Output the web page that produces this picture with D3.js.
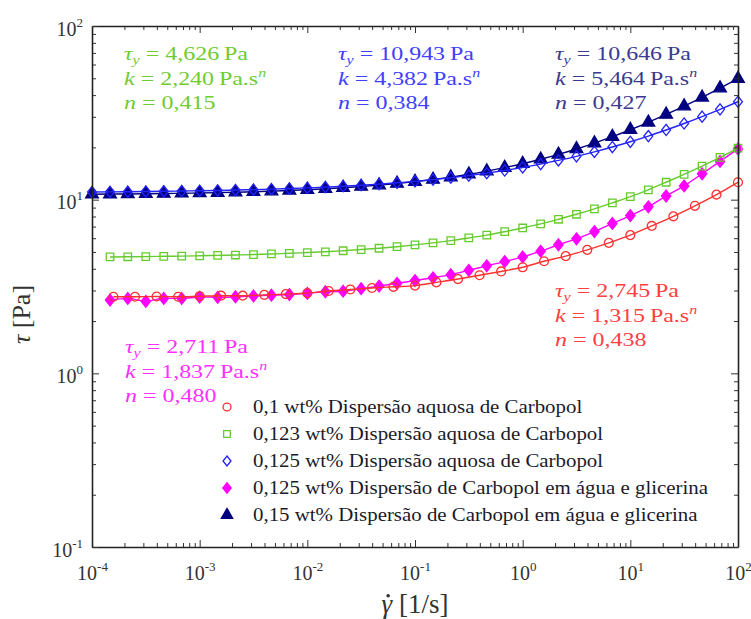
<!DOCTYPE html>
<html>
<head>
<meta charset="utf-8">
<script src="https://cdn.jsdelivr.net/npm/d3@7"></script>
<style>
  body { margin: 0; background: #fff; }
  svg, svg text { font-family: "Liberation Serif", "DejaVu Serif", serif; }
</style>
</head>
<body>
<div id="viz"></div>
<script>
// shear rates (1/s), three grids used by the series
const rateA = [1e-4, 1.47e-4, 2.15e-4, 3.16e-4, 4.64e-4, 6.81e-4,
  1e-3, 1.47e-3, 2.15e-3, 3.16e-3, 4.64e-3, 6.81e-3,
  0.01, 0.0147, 0.0215, 0.0316, 0.0464, 0.0681,
  0.1, 0.147, 0.215, 0.316, 0.464, 0.681,
  1, 1.47, 2.15, 3.16, 4.64, 6.81,
  10, 14.7, 21.5, 31.6, 46.4, 68.1, 100];
const rateB = [1.47e-4, 2.15e-4, 3.16e-4, 4.64e-4, 6.81e-4,
  1e-3, 1.47e-3, 2.15e-3, 3.16e-3, 4.64e-3, 6.81e-3,
  0.01, 0.0147, 0.0215, 0.0316, 0.0464, 0.0681,
  0.1, 0.147, 0.215, 0.316, 0.464, 0.681,
  1, 1.47, 2.15, 3.16, 4.64, 6.81,
  10, 14.7, 21.5, 31.6, 46.4, 68.1, 100];
const rateC = [1.58e-4, 2.51e-4, 3.98e-4, 6.31e-4,
  1e-3, 1.58e-3, 2.51e-3, 3.98e-3, 6.31e-3,
  0.01, 0.0158, 0.0251, 0.0398, 0.0631,
  0.1, 0.158, 0.251, 0.398, 0.631,
  1, 1.58, 2.51, 3.98, 6.31,
  10, 15.8, 25.1, 39.8, 63.1, 100];

// shear stress (Pa)
const tauRed = [2.76, 2.76, 2.77, 2.76, 2.78, 2.80, 2.80, 2.83, 2.86, 2.90,
  2.98, 3.04, 3.10, 3.15, 3.20, 3.34, 3.49, 3.67, 3.86, 4.08,
  4.42, 4.73, 5.14, 5.64, 6.25, 7.06, 8.02, 9.22, 10.7, 12.6];
const tauGreen = [4.68, 4.69, 4.70, 4.72, 4.73, 4.75, 4.78, 4.80, 4.83, 4.87,
  4.91, 4.96, 5.01, 5.08, 5.16, 5.25, 5.36, 5.49, 5.64, 5.81,
  6.02, 6.25, 6.54, 6.87, 7.25, 7.71, 8.24, 8.86, 9.59, 10.4,
  11.4, 12.6, 14.0, 15.6, 17.5, 19.8];
const tauBlue = [11.07, 11.09, 11.11, 11.14, 11.17, 11.21, 11.25, 11.30, 11.36, 11.42,
  11.50, 11.59, 11.69, 11.81, 11.95, 12.11, 12.29, 12.51, 12.75, 13.04,
  13.38, 13.76, 14.21, 14.73, 15.33, 16.02, 16.83, 17.76, 18.84, 20.10,
  21.55, 23.24, 25.19, 27.45, 30.07, 33.11, 36.63];
const tauMagenta = [2.64, 2.70, 2.60, 2.70, 2.70, 2.75, 2.74, 2.76, 2.79, 2.82,
  2.84, 2.89, 2.95, 2.97, 3.07, 3.18, 3.30, 3.42, 3.55, 3.70,
  3.92, 4.16, 4.40, 4.68, 5.05, 5.50, 5.95, 6.55, 7.30, 8.10,
  9.10, 10.5, 12.0, 14.1, 16.6, 19.6];
const tauNavy = [10.75, 10.77, 10.79, 10.82, 10.85, 10.89, 10.93, 10.98, 11.04, 11.11,
  11.20, 11.30, 11.41, 11.55, 11.71, 11.90, 12.12, 12.39, 12.70, 13.06,
  13.49, 14.00, 14.60, 15.30, 16.11, 17.08, 18.23, 19.58, 21.18, 23.05,
  25.27, 27.87, 30.94, 34.56, 38.82, 43.84, 49.76];

const legendNames = [
  '0,1 wt% Dispersão aquosa de Carbopol',
  '0,123 wt% Dispersão aquosa de Carbopol',
  '0,125 wt% Dispersão aquosa de Carbopol',
  '0,125 wt% Dispersão de Carbopol em água e glicerina',
  '0,15 wt% Dispersão de Carbopol em água e glicerina'];

// Herschel-Bulkley fit parameters shown as labels
const fitTauY = ['2,745', '4,626', '10,943', '2,711', '10,646'];
const fitK = ['1,315', '2,240', '4,382', '1,837', '5,464'];
const fitN = ['0,438', '0,415', '0,384', '0,480', '0,427'];

const xExps = [-4, -3, -2, -1, 0, 1, 2];
const yExps = [-1, 0, 1, 2];

let margin = {top: 26, right: 13, bottom: 72, left: 92},
    width = 751 - margin.left - margin.right,
    height = 619 - margin.top - margin.bottom;

let root = d3.select('#viz')
  .append('svg')
  .attr('width', width + margin.left + margin.right)
  .attr('height', height + margin.top + margin.bottom)
  .style('font-family', '"Liberation Serif", "DejaVu Serif", serif');
let svg = root.append('g')
  .attr('transform', `translate(${margin.left}, ${margin.top})`);

let x = d3.scaleLog().domain([1e-4, 1e2]).range([0, width]);
let y = d3.scaleLog().domain([1e-1, 1e2]).range([height, 0]);

let xMajor = xExps.map(e => Math.pow(10, e));
let yMajor = yExps.map(e => Math.pow(10, e));
let minorOf = majors => {
  let out = [];
  majors.slice(0, -1).forEach(m => { for (let i = 2; i <= 9; i++) out.push(m * i); });
  return out;
};
let xMinor = minorOf(xMajor), yMinor = minorOf(yMajor);

// diamond shape for the symbol generator
const diamond = {
  draw(ctx, size) {
    let h = Math.sqrt(size) * 0.72, w = h * 0.8;
    ctx.moveTo(0, -h); ctx.lineTo(w, 0); ctx.lineTo(0, h); ctx.lineTo(-w, 0); ctx.closePath();
  }
};

let series = [
  {rates: rateC, taus: tauRed, color: '#ff3030', type: d3.symbolCircle, size: 62, filled: false},
  {rates: rateB, taus: tauGreen, color: '#66cc2e', type: d3.symbolSquare, size: 56, filled: false},
  {rates: rateA, taus: tauBlue, color: '#2222ff', type: diamond, size: 60, filled: false},
  {rates: rateB, taus: tauMagenta, color: '#ff00ff', type: diamond, size: 66, filled: true},
  {rates: rateA, taus: tauNavy, color: '#000080', type: d3.symbolTriangle, size: 70, filled: true}
];

// filled markers first so the open ones sit on top, like the original
let drawOrder = [4, 3, 2, 1, 0];
let line = d3.line().x(d => x(d[0])).y(d => y(d[1])).curve(d3.curveMonotoneX);

drawOrder.forEach(i => {
  let s = series[i];
  let pts = s.rates.map((r, j) => [r, s.taus[j]]);
  let g = svg.append('g');
  g.append('path')
    .datum(pts)
    .attr('d', line)
    .attr('fill', 'none')
    .attr('stroke', s.color)
    .attr('stroke-width', 1.4);
  g.selectAll('path.pt')
    .data(pts)
    .join('path')
    .attr('class', 'pt')
    .attr('transform', d => `translate(${x(d[0])},${y(d[1])})`)
    .attr('d', d3.symbol(s.type, s.size))
    .attr('fill', s.filled ? s.color : 'none')
    .attr('stroke', s.color)
    .attr('stroke-width', 1.3);
});

// axes: ticks point inward on all four sides
function addAxis(axisFn, scale, majors, minors, transform) {
  let gMin = svg.append('g').attr('transform', transform)
    .call(axisFn(scale).tickValues(minors).tickSize(-4).tickSizeOuter(0).tickFormat(''));
  gMin.select('.domain').remove();
  gMin.selectAll('.tick line').attr('stroke', '#333');
  let gMaj = svg.append('g').attr('transform', transform)
    .call(axisFn(scale).tickValues(majors).tickSize(-7).tickSizeOuter(0).tickFormat(''));
  gMaj.attr('font-family', null);
  gMaj.select('.domain').attr('stroke', '#222').attr('stroke-width', 1.6);
  gMaj.selectAll('.tick line').attr('stroke', '#333');
  return gMaj;
}

let bottomAx = addAxis(d3.axisBottom, x, xMajor, xMinor, `translate(0,${height})`);
addAxis(d3.axisTop, x, xMajor, xMinor, 'translate(0,0)');
let leftAx = addAxis(d3.axisLeft, y, yMajor, yMinor, 'translate(0,0)');
addAxis(d3.axisRight, y, yMajor, yMinor, `translate(${width},0)`);

function powerLabel(sel, exps) {
  sel.each(function(d, i) {
    let t = d3.select(this).text(null);
    t.append('tspan').text('10');
    t.append('tspan').attr('dy', -9).attr('font-size', 13).text(exps[i]);
  });
}

bottomAx.selectAll('.tick text')
  .attr('y', 33).attr('dy', null)
  .attr('text-anchor', 'middle')
  .attr('font-size', 20)
  .attr('fill', '#333')
  .call(powerLabel, xExps);

leftAx.selectAll('.tick text')
  .attr('x', -9).attr('dy', null).attr('y', 9)
  .attr('text-anchor', 'end')
  .attr('font-size', 20)
  .attr('fill', '#333')
  .call(powerLabel, yExps);

// axis titles
let xTitle = svg.append('text')
  .attr('x', width / 2)
  .attr('y', height + 66)
  .attr('text-anchor', 'middle')
  .attr('font-size', 27)
  .attr('fill', '#333')
  .call(t => {
    t.append('tspan').attr('font-style', 'italic').text('\u03B3');
    t.append('tspan').text(' [1/s]');
  });
// dot over gamma (rate), placed from the glyph box
let gBox = xTitle.node().getExtentOfChar(0);
svg.append('circle')
  .attr('cx', gBox.x + gBox.width * 0.62)
  .attr('cy', height + 66 - 27 * 0.64)
  .attr('r', 1.8)
  .attr('fill', '#333');

svg.append('text')
  .attr('transform', `translate(${-62},${height / 2 + 28}) rotate(-90)`)
  .attr('text-anchor', 'middle')
  .attr('font-size', 26)
  .attr('fill', '#333')
  .call(t => {
    t.append('tspan').attr('font-style', 'italic').text('\u03C4');
    t.append('tspan').text(' [Pa]');
  });

// legend (the original glyphs are drawn a little wider than Times)
let legend = svg.append('g').attr('transform', 'translate(135, 381)');
series.forEach((s, i) => {
  let row = legend.append('g').attr('transform', `translate(0,${i * 27})`);
  row.append('path')
    .attr('d', d3.symbol(s.type, s.size * 0.8))
    .attr('fill', s.filled ? s.color : 'none')
    .attr('stroke', s.color)
    .attr('stroke-width', 1.3);
  row.append('text')
    .attr('transform', 'translate(26,6) scale(1.16,1)')
    .attr('font-size', 18)
    .attr('fill', '#1a1a2a')
    .text(legendNames[i]);
});

// fit parameter labels
let labelSpots = [
  {x: 463, y: 271, color: '#ff4040'},
  {x: 32, y: 34, color: '#70cc30'},
  {x: 246, y: 34, color: '#4040ff'},
  {x: 33, y: 327, color: '#ff30ff'},
  {x: 463, y: 34, color: '#3a3a90'}
];
labelSpots.forEach((p, i) => {
  let g = svg.append('g')
    .attr('transform', `translate(${p.x},${p.y})`)
    .attr('fill', p.color)
    .attr('font-size', 19.5);
  let t1 = g.append('text').attr('transform', 'translate(0,0) scale(1.23,1)');
  t1.append('tspan').attr('font-style', 'italic').text('\u03C4');
  t1.append('tspan').attr('font-style', 'italic').attr('font-size', 13).attr('dy', 4).text('y');
  t1.append('tspan').attr('dy', -4).text(` = ${fitTauY[i]}\u2009Pa`);
  let t2 = g.append('text').attr('transform', 'translate(0,25) scale(1.23,1)');
  t2.append('tspan').attr('font-style', 'italic').text('k');
  t2.append('tspan').text(` = ${fitK[i]}\u2009Pa.s`);
  t2.append('tspan').attr('font-style', 'italic').attr('font-size', 13).attr('dy', -8).text('n');
  let t3 = g.append('text').attr('transform', 'translate(0,49) scale(1.23,1)');
  t3.append('tspan').attr('font-style', 'italic').text('n');
  t3.append('tspan').text(` = ${fitN[i]}`);
});
</script>
</body>
</html>
